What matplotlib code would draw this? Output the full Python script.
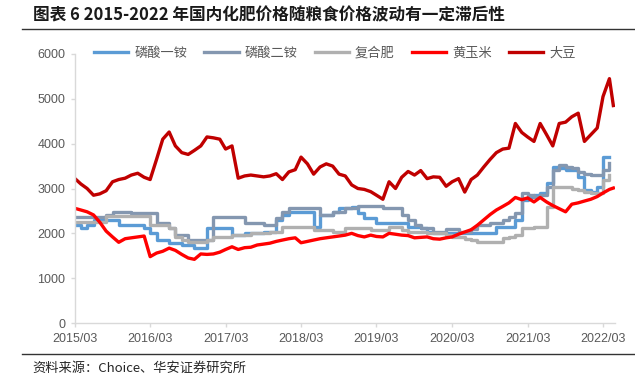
import matplotlib
matplotlib.use("Agg")
import matplotlib.pyplot as plt
import matplotlib.dates as mdates
from matplotlib.lines import Line2D
import pandas as pd

plt.rcParams['font.family'] = ['Liberation Sans', 'Noto Sans CJK SC', 'DejaVu Sans']

# monthly data, 2015/03 - 2022/04 (last soybean/corn point mid-April)
months = pd.date_range('2015-03-01', '2022-04-01', freq='MS')

map_price = [2190, 2120, 2190, 2300, 2300, 2300, 2300, 2190, 2190, 2190, 2190, 2120,
             2000, 1850, 1850, 1780, 1780, 1740, 1740, 1670, 1670, 2120, 2120, 2120,
             2120, 1960, 1960, 2000, 2000, 2000, 2030, 2030, 2300, 2410, 2480, 2480,
             2480, 2480, 2140, 2410, 2410, 2480, 2560, 2560, 2590, 2450, 2340, 2340,
             2230, 2230, 2230, 2230, 2230, 2140, 2140, 2120, 2030, 2000, 2000, 2000,
             2000, 2000, 2000, 2000, 2000, 2000, 2000, 2140, 2140, 2140, 2300, 2740,
             2810, 2850, 2900, 3120, 3480, 3460, 3410, 3410, 3260, 2970, 2920, 3030,
             3710, 3710]

dap_price = [2360, 2360, 2360, 2360, 2360, 2410, 2480, 2480, 2480, 2450, 2450, 2450,
             2450, 2230, 2230, 2120, 1960, 1960, 1850, 1850, 1850, 1850, 2360, 2360,
             2360, 2360, 2360, 2230, 2230, 2230, 2190, 2190, 2340, 2480, 2560, 2560,
             2560, 2560, 2560, 2410, 2410, 2480, 2480, 2560, 2560, 2610, 2610, 2610,
             2610, 2560, 2560, 2560, 2410, 2300, 2190, 2120, 2120, 2030, 2030, 2100,
             2100, 2030, 2030, 2100, 2190, 2190, 2230, 2230, 2300, 2360, 2450, 2900,
             2850, 2810, 2850, 3030, 3410, 3520, 3480, 3460, 3370, 3330, 3300, 3300,
             3410, 3570]

compound_price = [2250, 2250, 2250, 2250, 2250, 2380, 2380, 2380, 2380, 2380, 2380, 2380,
                  2190, 2190, 2190, 2120, 1920, 1850, 1810, 1810, 1810, 1850, 1920, 1920,
                  1920, 1960, 1960, 1960, 2000, 2000, 2000, 2030, 2030, 2140, 2140, 2140,
                  2140, 2140, 2070, 2070, 2070, 2030, 2030, 2120, 2120, 2120, 2120, 2070,
                  2070, 2070, 2140, 2140, 2070, 2030, 2030, 2030, 2000, 2000, 2000, 1960,
                  1920, 1920, 1880, 1850, 1810, 1810, 1810, 1810, 1890, 1920, 1960, 2120,
                  2120, 2140, 2140, 2590, 3030, 3030, 3030, 3000, 2970, 2920, 2900, 2900,
                  3190, 3300]

corn_price = [2560, 2520, 2480, 2410, 2250, 2050, 1920, 1800, 1880, 1900, 1920, 1940,
              1480, 1560, 1600, 1670, 1620, 1530, 1450, 1420, 1540, 1530, 1540, 1580,
              1640, 1700, 1640, 1680, 1690, 1740, 1760, 1780, 1820, 1850, 1880, 1900,
              1790, 1820, 1850, 1880, 1900, 1920, 1940, 1960, 2000, 1950, 1920, 1960,
              1930, 1920, 2000, 1980, 1960, 1950, 1900, 1910, 1920, 1880, 1870, 1900,
              1920, 1980, 2030, 2080, 2180, 2300, 2420, 2520, 2600, 2680, 2800, 2750,
              2790, 2700, 2800, 2700, 2620, 2550, 2480, 2650, 2680, 2720, 2760, 2820,
              2900, 2980]

soy_price = [3230, 3100, 3000, 2850, 2880, 2950, 3150, 3200, 3230, 3300, 3340, 3250,
             3200, 3650, 4100, 4260, 3950, 3800, 3760, 3850, 3950, 4150, 4130, 4100,
             3880, 3950, 3230, 3280, 3300, 3280, 3260, 3280, 3330, 3200, 3370, 3420,
             3700, 3550, 3320, 3480, 3550, 3500, 3320, 3280, 3080, 3000, 2980, 2930,
             2850, 2760, 3150, 3000, 3250, 3380, 3300, 3400, 3220, 3260, 3250, 3050,
             3150, 3220, 2920, 3200, 3300, 3480, 3650, 3800, 3880, 3900, 4450, 4250,
             4150, 4050, 4450, 4200, 3950, 4450, 4480, 4600, 4680, 4050, 4200, 4350,
             5050, 5450]

end_date = pd.Timestamp('2022-04-20')
corn_end = 3010
soy_end = 4850

names = ['磷酸一铵', '磷酸二铵', '复合肥', '黄玉米', '大豆']
colors = ['#5B9BD5', '#8497B0', '#B0B0B0', '#FF0000', '#C00000']
xtick_dates = pd.date_range('2015-03-01', '2022-03-01', freq='12MS')

fig = plt.figure(figsize=(6.35, 3.81), dpi=100)
ax = fig.add_axes([74.5 / 635, 1 - 323 / 381, (615 - 74.5) / 635, (323 - 54) / 381])

ax.plot(months, map_price, color=colors[0], lw=2.4, drawstyle='steps-post', label=names[0])
ax.plot(months, dap_price, color=colors[1], lw=2.4, drawstyle='steps-post', label=names[1])
ax.plot(months, compound_price, color=colors[2], lw=2.4, drawstyle='steps-post', label=names[2])
ax.plot(list(months) + [end_date], corn_price + [corn_end], color=colors[3], lw=2.4, label=names[3])
ax.plot(list(months) + [end_date], soy_price + [soy_end], color=colors[4], lw=2.4, label=names[4])

ax.set_ylim(0, 6000)
ax.set_xlim(pd.Timestamp('2015-03-01'), pd.Timestamp('2022-04-28'))
ax.set_yticks(range(0, 6001, 1000))
ax.set_xticks(xtick_dates)
ax.xaxis.set_major_formatter(mdates.DateFormatter('%Y/%m'))

for s in ['top', 'right']:
    ax.spines[s].set_visible(False)
for s in ['left', 'bottom']:
    ax.spines[s].set_color('#D9D9D9')
    ax.spines[s].set_linewidth(1)
ax.tick_params(colors='#D9D9D9', labelcolor='#595959', labelsize=9, length=3, width=1)
ax.tick_params(axis='x', pad=4)

leg = fig.legend(loc='center left', bbox_to_anchor=(82 / 635, 1 - 53 / 381), ncol=5,
                 frameon=False, handlelength=2.6, handletextpad=0.45, columnspacing=1.3,
                 prop={'family': ['Noto Sans CJK SC', 'DejaVu Sans'], 'size': 9.5})
for t in leg.get_texts():
    t.set_color('#595959')

fig.text(33 / 635, 1 - 15 / 381, '图表 6 2015-2022 年国内化肥价格随粮食价格波动有一定滞后性',
         fontsize=12, fontweight='bold', va='center', ha='left', color='#1a1a1a',
         family=['Noto Sans CJK SC', 'DejaVu Sans'])
fig.add_artist(Line2D([22 / 635, 1], [1 - 29 / 381, 1 - 29 / 381], color='#333333', lw=1,
                      transform=fig.transFigure))
fig.add_artist(Line2D([22 / 635, 1], [1 - 354 / 381, 1 - 354 / 381], color='#333333', lw=1,
                      transform=fig.transFigure))
fig.text(32 / 635, 1 - 368 / 381, '资料来源：Choice、华安证券研究所', fontsize=9.5,
         va='center', ha='left', color='#262626',
         family=['Noto Sans CJK SC', 'DejaVu Sans'])

fig.savefig('out.png', dpi=100)
